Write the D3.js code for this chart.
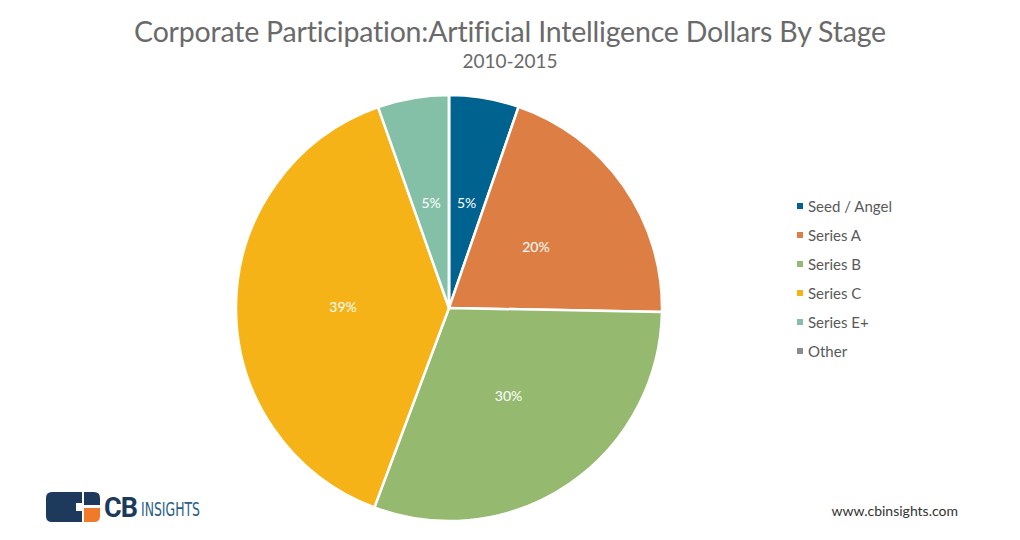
<!DOCTYPE html>
<html><head><meta charset="utf-8">
<script src="https://cdn.jsdelivr.net/npm/d3@7"></script>
<style>body{margin:0;background:#fff;font-family:Lato,"Open Sans",sans-serif;}</style>
</head><body>
<svg id="c" width="1020" height="540"></svg>
<script>
// data
var stages = ['Seed / Angel', 'Series A', 'Series B', 'Series C', 'Series E+', 'Other'];
var shares = [5.3, 20.0, 30.4, 38.9, 5.4, 0];
var labels = ['5%', '20%', '30%', '39%', '5%', ''];
var colors = ['#00628f', '#dd7f45', '#95ba6f', '#f5b318', '#84c0a8', '#8c8c8c'];

var svg = d3.select('#c');
svg.append('text').attr('x', 510).attr('y', 42).attr('text-anchor', 'middle')
    .attr('font-size', 28.5).attr('fill', '#6a6a6a').attr('letter-spacing', -0.2)
    .text('Corporate Participation:Artificial Intelligence Dollars By Stage');
svg.append('text').attr('x', 510).attr('y', 68).attr('text-anchor', 'middle')
    .attr('font-size', 19).attr('fill', '#6a6a6a').text('2010-2015');

var r = 213;
var g = svg.append('g').attr('transform', 'translate(449,308)');
var pie = d3.pie().sort(null).value(function (d) { return d; });
var arcs = pie(shares);
var arc = d3.arc().innerRadius(0).outerRadius(r);
var lab = d3.arc().innerRadius(106).outerRadius(106);
g.selectAll('path').data(arcs).enter().append('path')
    .attr('d', arc)
    .attr('fill', function (d, i) { return colors[i]; })
    .attr('stroke', '#fff').attr('stroke-width', 2.5);
g.selectAll('text').data(arcs).enter().append('text')
    .attr('transform', function (d) { return 'translate(' + lab.centroid(d) + ')'; })
    .attr('text-anchor', 'middle').attr('dy', '0.35em')
    .attr('font-size', 14).attr('fill', '#fff')
    .text(function (d, i) { return labels[i]; });

// legend
var lg = svg.append('g').attr('transform', 'translate(797,207)');
stages.forEach(function (s, i) {
    var y = i * 29;
    lg.append('rect').attr('x', 0).attr('y', y - 4).attr('width', 6).attr('height', 6).attr('fill', colors[i]);
    lg.append('text').attr('x', 11).attr('y', y).attr('dy', '0.35em')
        .attr('font-size', 15).attr('fill', '#595959').text(s);
});

// logo
var lo = svg.append('g').attr('transform', 'translate(46,492)');
lo.append('path').attr('d', 'M6,0 H36 V30 H6 Q0,30 0,24 V6 Q0,0 6,0 Z').attr('fill', '#1d3a5c');
lo.append('rect').attr('x', 30).attr('y', 11).attr('width', 10).attr('height', 8).attr('fill', '#fff');
lo.append('path').attr('d', 'M38,0 H48 Q54,0 54,6 V13 H38 Z').attr('fill', '#1d3a5c');
lo.append('path').attr('d', 'M38,16 H54 V24 Q54,30 48,30 H38 Z').attr('fill', '#f07a2a');
lo.append('text').attr('x', 58).attr('y', 25).attr('font-size', 27).attr('font-weight', 'bold')
    .attr('fill', '#1d3a5c').attr('font-family', 'Roboto, sans-serif').attr('letter-spacing', -1).text('CB');
lo.append('text').attr('x', 95).attr('y', 24).attr('font-size', 19)
    .attr('fill', '#2b5d86').attr('font-family', '"Liberation Sans Narrow", "DejaVu Sans Condensed", sans-serif')
    .attr('textLength', 59).attr('lengthAdjust', 'spacingAndGlyphs').text('INSIGHTS');

svg.append('text').attr('x', 958).attr('y', 516).attr('text-anchor', 'end')
    .attr('font-size', 14).attr('fill', '#333').text('www.cbinsights.com');
</script>
</body></html>
